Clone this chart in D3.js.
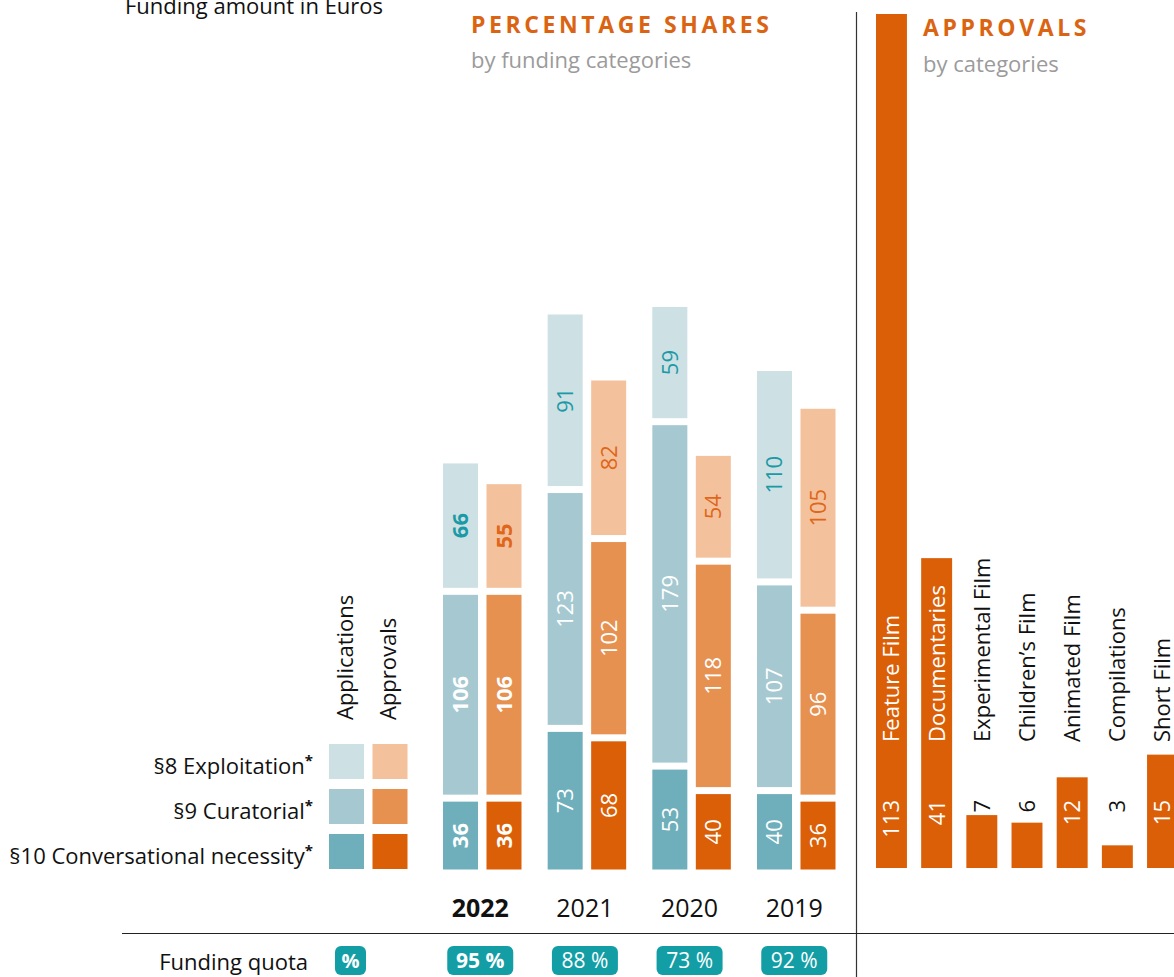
<!DOCTYPE html>
<html>
<head>
<meta charset="utf-8">
<script src="https://cdn.jsdelivr.net/npm/d3@7"></script>
<style>
  html, body { margin: 0; padding: 0; background: #fff; }
  svg { display: block; font-family: "Open Sans", "Noto Sans", sans-serif; }
</style>
</head>
<body>
<svg id="chart" width="1174" height="977"></svg>
<script>
// ---------- data ----------
const years = ["2022", "2021", "2020", "2019"];
const apps8  = [66, 91, 59, 110];
const apps9  = [106, 123, 179, 107];
const apps10 = [36, 73, 53, 40];
const appr8  = [55, 82, 54, 105];
const appr9  = [106, 102, 118, 96];
const appr10 = [36, 68, 40, 36];
const quota  = [95, 88, 73, 92];

const categories = ["Feature Film", "Documentaries", "Experimental Film", "Children’s Film", "Animated Film", "Compilations", "Short Film"];
const catValues  = [113, 41, 7, 6, 12, 3, 15];

const legendLabels = ["§8 Exploitation", "§9 Curatorial", "§10 Conversational necessity"];
const seriesKeys = ["apps", "appr"];
const seriesNames = ["Applications", "Approvals"];

// ---------- styles ----------
const colors = {
  apps: ["#cde0e4", "#a6c9d1", "#6eafbb"],
  appr: ["#f3c29d", "#e69150", "#db5f07"]
};
const topLabelColor = { apps: "#1a9aa6", appr: "#e0661a" };
const orange = "#db6412";
const teal = "#139ea6";
const FS = 22;

const svg = d3.select("#chart");

// ---------- left chart scales ----------
const baseY = 869.5;
const gap = 7;
const x0 = d3.scaleBand().domain(years).range([443, 835.5]).paddingInner(0.25).paddingOuter(0);
const x1 = d3.scaleBand().domain(seriesKeys).range([0, x0.bandwidth()]).paddingInner(0.195).paddingOuter(0);
const h = d3.scaleLinear().domain([0, 100]).range([0, 188.5]);

const dataBy = {
  apps: [apps10, apps9, apps8],
  appr: [appr10, appr9, appr8]
};

// build segments
const segments = [];
years.forEach((yr, yi) => {
  seriesKeys.forEach(key => {
    let bottom = baseY;
    dataBy[key].forEach((arr, level) => {
      const v = arr[yi];
      const hh = h(v);
      const top = bottom - hh;
      segments.push({ yr, yi, key, level, v, top, bottom, hh });
      bottom = top - gap;
    });
  });
});

const g = svg.append("g");
g.selectAll("rect.seg").data(segments).join("rect")
  .attr("class", "seg")
  .attr("x", d => x0(d.yr) + x1(d.key))
  .attr("y", d => d.top)
  .attr("width", x1.bandwidth())
  .attr("height", d => d.hh)
  .attr("fill", d => colors[d.key][2 - d.level]);

g.selectAll("text.seglab").data(segments).join("text")
  .attr("class", "seglab")
  .attr("transform", d => `translate(${x0(d.yr) + x1(d.key) + x1.bandwidth() / 2},${(d.top + d.bottom) / 2}) rotate(-90)`)
  .attr("text-anchor", "middle")
  .attr("dy", "0.36em")
  .attr("font-size", FS)
  .attr("font-weight", d => d.yi === 0 ? 700 : 400)
  .attr("fill", d => d.level === 2 ? topLabelColor[d.key] : "#fff")
  .text(d => d.v);

// year labels
svg.selectAll("text.year").data(years).join("text")
  .attr("class", "year")
  .attr("x", d => x0(d) + x0.bandwidth() / 2 - 2)
  .attr("y", 917)
  .attr("text-anchor", "middle")
  .attr("font-size", 25)
  .attr("font-weight", (d, i) => i === 0 ? 700 : 400)
  .attr("fill", "#111")
  .text(d => d);

// funding quota badges
const badgeW = 66, badgeH = 29, badgeY = 946;
const bq = svg.selectAll("g.quota").data(years).join("g").attr("class", "quota");
bq.append("rect")
  .attr("x", d => x0(d) + x0.bandwidth() / 2 - badgeW / 2 - 2)
  .attr("y", badgeY)
  .attr("width", badgeW)
  .attr("height", badgeH)
  .attr("rx", 6)
  .attr("fill", teal);
bq.append("text")
  .attr("x", d => x0(d) + x0.bandwidth() / 2 - 2)
  .attr("y", badgeY + badgeH / 2)
  .attr("dy", "0.36em")
  .attr("text-anchor", "middle")
  .attr("font-size", 21)
  .attr("font-weight", (d, i) => i === 0 ? 700 : 400)
  .attr("fill", "#fff")
  .text((d, i) => quota[i] + " %");

// funding quota label + % badge
svg.append("text").attr("x", 308).attr("y", 970).attr("text-anchor", "end")
  .attr("font-size", FS).attr("fill", "#111").text("Funding quota");
svg.append("rect").attr("x", 335).attr("y", 946).attr("width", 31).attr("height", 29).attr("rx", 6).attr("fill", teal);
svg.append("text").attr("x", 350.5).attr("y", 960.5).attr("dy", "0.36em").attr("text-anchor", "middle")
  .attr("font-size", 20).attr("font-weight", 700).attr("fill", "#fff").text("%");

// ---------- legend ----------
const legX = d3.scaleBand().domain(seriesKeys).range([329, 329 + x0.bandwidth()]).paddingInner(0.195).paddingOuter(0);
const legRowY = [744, 789, 834]; // §8, §9, §10 rows
const legendItems = [];
legendLabels.forEach((lab, r) => {
  seriesKeys.forEach(key => legendItems.push({ r, key }));
});
svg.selectAll("rect.leg").data(legendItems).join("rect")
  .attr("class", "leg")
  .attr("x", d => legX(d.key))
  .attr("y", d => legRowY[d.r])
  .attr("width", legX.bandwidth())
  .attr("height", 35)
  .attr("fill", d => colors[d.key][d.r]);

const legText = svg.selectAll("text.legl").data(legendLabels).join("text")
  .attr("class", "legl")
  .attr("x", 313)
  .attr("y", (d, i) => legRowY[i] + 30)
  .attr("text-anchor", "end")
  .attr("font-size", FS)
  .attr("fill", "#111");
legText.append("tspan").text(d => d);
legText.append("tspan").attr("dy", -8).attr("font-size", 15).attr("font-weight", 700).text("*");

svg.selectAll("text.sername").data(seriesKeys).join("text")
  .attr("class", "sername")
  .attr("transform", d => `translate(${legX(d) + legX.bandwidth() / 2 + 6},720) rotate(-90)`)
  .attr("text-anchor", "start")
  .attr("font-size", FS)
  .attr("fill", "#111")
  .text((d, i) => seriesNames[i]);

// ---------- titles ----------
svg.append("text").attr("x", 125).attr("y", 14).attr("font-size", FS).attr("fill", "#111").text("Funding amount in Euros");

svg.append("text").attr("x", 471).attr("y", 33).attr("font-size", 23).attr("font-weight", 700)
  .attr("letter-spacing", 3.6).attr("fill", orange).text("PERCENTAGE SHARES");
svg.append("text").attr("x", 471).attr("y", 68).attr("font-size", FS).attr("fill", "#9b9b9b").text("by funding categories");

svg.append("text").attr("x", 923).attr("y", 36).attr("font-size", 23).attr("font-weight", 700)
  .attr("letter-spacing", 3.6).attr("fill", orange).text("APPROVALS");
svg.append("text").attr("x", 923).attr("y", 72).attr("font-size", FS).attr("fill", "#9b9b9b").text("by categories");

// ---------- dividers ----------
svg.append("line").attr("x1", 856.5).attr("x2", 856.5).attr("y1", 12).attr("y2", 977).attr("stroke", "#333").attr("stroke-width", 1.2);
svg.append("line").attr("x1", 122).attr("x2", 1174).attr("y1", 933.5).attr("y2", 933.5).attr("stroke", "#222").attr("stroke-width", 1.2);

// ---------- right chart ----------
const rBase = 868;
const xr = d3.scaleBand().domain(categories).range([876, 1178]).paddingInner(0.315).paddingOuter(0);
const yr = d3.scaleLinear().domain([0, 113]).range([rBase, 14]);
const catData = categories.map((c, i) => ({ c, v: catValues[i] }));

svg.selectAll("rect.cat").data(catData).join("rect")
  .attr("class", "cat")
  .attr("x", d => xr(d.c))
  .attr("y", d => yr(d.v))
  .attr("width", xr.bandwidth())
  .attr("height", d => rBase - yr(d.v))
  .attr("fill", "#db5f07");

const valEnd = 800;
const labStart = 742;
svg.selectAll("text.catval").data(catData).join("text")
  .attr("class", "catval")
  .attr("transform", d => `translate(${xr(d.c) + xr.bandwidth() / 2},${valEnd}) rotate(-90)`)
  .attr("text-anchor", "end")
  .attr("dy", "0.36em")
  .attr("font-size", FS)
  .attr("fill", d => yr(d.v) < valEnd - 5 ? "#fff" : "#111")
  .text(d => d.v);

svg.selectAll("text.catlab").data(catData).join("text")
  .attr("class", "catlab")
  .attr("transform", d => `translate(${xr(d.c) + xr.bandwidth() / 2},${labStart}) rotate(-90)`)
  .attr("text-anchor", "start")
  .attr("dy", "0.36em")
  .attr("font-size", FS)
  .attr("fill", d => yr(d.v) < 600 ? "#fff" : "#111")
  .text(d => d.c);
</script>
</body>
</html>
